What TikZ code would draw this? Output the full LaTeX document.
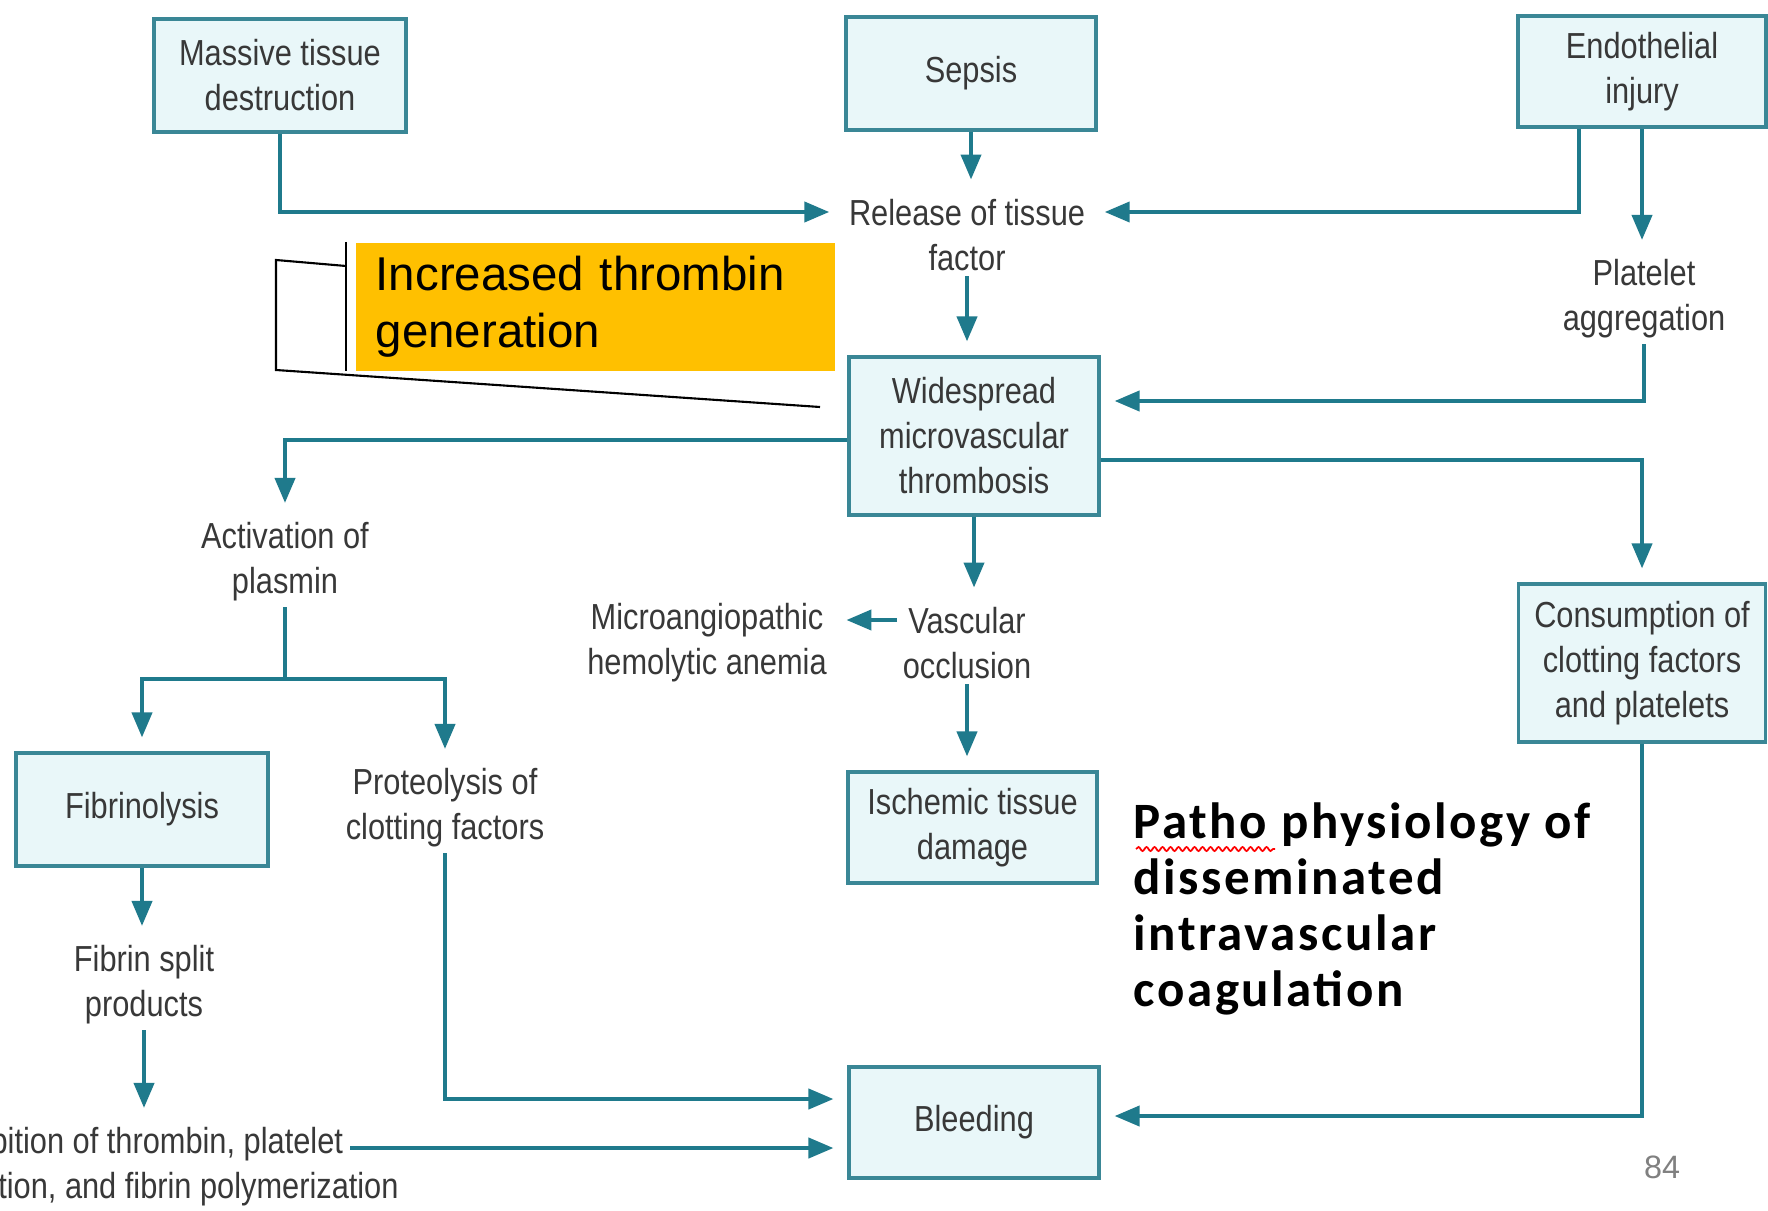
\documentclass[tikz,border=0pt]{standalone}
\usepackage{fontspec}
\usetikzlibrary{arrows.meta,decorations.pathmorphing}
\newfontfamily\diagfont{Liberation Sans}[FakeStretch=0.85]
\newfontfamily\calfont{Liberation Sans}
\newfontfamily\titfont{Carlito}[LetterSpace=5]
\definecolor{tealline}{HTML}{1F7A8C}
\definecolor{tealbox}{HTML}{3A8796}
\definecolor{boxfill}{HTML}{E9F7F9}
\definecolor{txtgray}{HTML}{383838}
\definecolor{calloutfill}{HTML}{FFC000}
\begin{document}
\begin{tikzpicture}[box/.style={shape=rectangle,draw=tealbox,line width=0.9pt,fill=boxfill,align=center,text=txtgray,inner sep=0pt,font=\diagfont\fontsize{10.3}{12.8}\selectfont},txt/.style={align=center,text=txtgray,inner sep=0.05cm,font=\diagfont\fontsize{10.3}{12.8}\selectfont},arr/.style={draw=tealline,line width=1.15pt,-{Triangle[length=0.25cm,width=0.2cm]},shorten >=0.14cm},lnk/.style={draw=tealline,line width=1.15pt},callout/.style={fill=calloutfill,anchor=north west,minimum width=4.79cm,minimum height=1.28cm,text width=4.39cm,inner xsep=0.2cm,align=left,font=\calfont\fontsize{13.5}{16.2}\selectfont}]
\def\dh{0.23cm};
\clip (0,0) rectangle (17.68,-12.10);
\fill[white] (0,0) rectangle (17.68,-12.10);

% causes
\node[box,minimum width=2.52cm,minimum height=1.13cm] (MT) at (2.80,-0.755) {Massive tissue\\destruction};
\node[box,minimum width=2.50cm,minimum height=1.13cm] (SE) at (9.71,-0.735) {Sepsis};
\node[box,minimum width=2.48cm,minimum height=1.11cm] (EI) at (16.42,-0.715) {Endothelial\\injury};
\node[txt] (RT) at (9.67,-2.35) {Release of tissue\\factor};
\node[txt] (PA) at (16.44,-2.99) {Platelet\\aggregation};
\draw[arr] (MT.south) |- ([yshift=\dh]RT.west);
\draw[arr] (SE.south) -- (SE.south |- RT.north);
\draw[arr] ([xshift=-0.63cm]EI.south) |- ([yshift=\dh]RT.east);
\draw[arr] (EI.south) -- (EI.south |- PA.north);

% thrombosis
\node[box,minimum width=2.50cm,minimum height=1.58cm] (WT) at (9.74,-4.36) {Widespread\\microvascular\\thrombosis};
\draw[arr] (RT.south) -- (RT.south |- WT.north);
\draw[arr] (PA.south) |- ([yshift=0.35cm]WT.east);

\node[callout] (IT) at (3.55,-2.42) {Increased thrombin\\generation};
\draw[black,line width=0.6pt] ([xshift=-0.09cm]IT.north west) -- ([xshift=-0.09cm]IT.south west);
\coordinate (IE) at (8.20,-4.07);
\draw[black,line width=0.6pt] ([shift={(-0.09,-0.24)}]IT.north west) -- ++(-0.70,0.06) -- ++(0,-1.10) -- (IE);

% consequences
\node[txt] (AP) at (2.85,-5.62) {Activation of\\plasmin};
\node[box,minimum width=2.47cm,minimum height=1.58cm] (CF) at (16.42,-6.63) {Consumption of\\clotting factors\\and platelets};
\node[txt] (VO) at (9.67,-6.43) {Vascular\\occlusion};
\node[txt] (MH) at (7.07,-6.43) {Microangiopathic\\hemolytic anemia};
\node[box,minimum width=2.49cm,minimum height=1.11cm] (IS) at (9.725,-8.275) {Ischemic tissue\\damage};
\draw[arr] ([yshift=-0.04cm]WT.west) -| (AP.north);
\draw[arr] ([yshift=-0.24cm]WT.east) -| (CF.north);
\draw[arr] (WT.south) -- (WT.south |- VO.north);
\draw[arr] ([yshift=\dh]VO.west) -- ([yshift=\dh]MH.east);
\draw[arr] (VO.south) -- (VO.south |- IS.north);

\node[box,minimum width=2.52cm,minimum height=1.13cm] (FB) at (1.42,-8.095) {Fibrinolysis};
\node[txt] (PC) at (4.45,-8.08) {Proteolysis of\\clotting factors};
\node[txt] (FS) at (1.44,-9.85) {Fibrin split\\products};
\node[txt] (IH) at (1.42,-11.67) {Inhibition of thrombin, platelet\\aggregation, and fibrin polymerization};
\coordinate (AS) at (2.85,-6.79);
\draw[lnk] (AP.south) -- (AS);
\draw[arr] (AS) -| (FB.north);
\draw[arr] (AS) -| (PC.north);
\draw[arr] (FB.south) -- (FB.south |- FS.north);
\draw[arr] (FS.south) -- (FS.south |- IH.north);

% bleeding
\node[box,minimum width=2.50cm,minimum height=1.11cm] (BL) at (9.74,-11.225) {Bleeding};
\coordinate (IHa) at ([xshift=-0.54cm,yshift=0.19cm]IH.east);
\draw[arr] (PC.south) |- ([yshift=0.235cm]BL.west);
\draw[arr] (IHa) -- (IHa -| BL.west);
\draw[arr] (CF.south) |- ([yshift=0.065cm]BL.east);

% title
\node[anchor=north west,inner sep=0pt,align=left,font=\titfont\bfseries\fontsize{14.5}{15.9}\selectfont] (DT) at (11.33,-8.02) {Patho physiology of\\disseminated\\intravascular\\coagulation};
\draw[red,line width=0.5pt,decorate,decoration={snake,amplitude=0.02cm,segment length=0.08cm}] ([shift={(0.03,-0.47)}]DT.north west) -- ++(1.39,0);
\node[text=black!50,inner sep=0pt,font=\calfont\fontsize{9.2}{11}\selectfont] (PN) at (16.62,-11.67) {84};
\end{tikzpicture}
\end{document}
